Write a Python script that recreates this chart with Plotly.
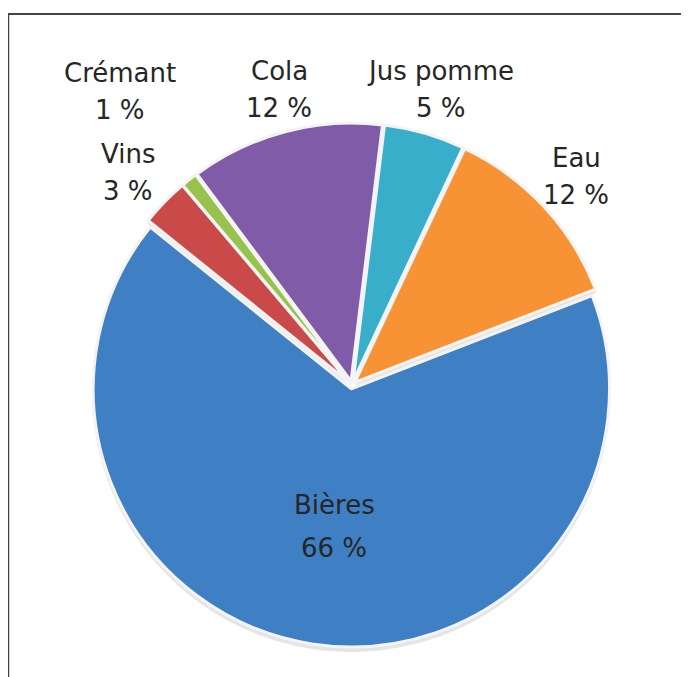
import plotly.graph_objects as go

labels = ["Jus pomme", "Eau", "Bières", "Vins", "Crémant", "Cola"]
values = [5, 12, 66, 3, 1, 12]
colors = ["#38AECB", "#F79235", "#3F7FC4", "#C94A49", "#97C24D", "#7F5BA8"]

# the page body adds an 8 px margin, so the figure is drawn 8 px in from the window edge
OFF = 8
W, H = 689 - OFF, 677 - OFF

# label placement (window-pixel centres of the name line and the value line)
label_pos = {
    "Jus pomme": (441, 71, 108),
    "Eau": (576, 158, 195),
    "Bières": (334, 505, 548),
    "Vins": (128, 154, 191),
    "Crémant": (120, 73, 110),
    "Cola": (279, 71, 108),
}


def px(x):
    return (x - OFF) / W


def py(y):
    return 1 - (y - OFF) / H


cx, cy, R = 352, 385, 262
dom_x = [px(cx - R), px(cx + R)]
dom_y = [py(cy + R), py(cy - R)]
pull = [0.015] * len(values)

fig = go.Figure()
# soft drop shadow
fig.add_trace(go.Pie(
    labels=labels, values=values, sort=False, direction="clockwise", rotation=7,
    pull=pull,
    marker=dict(colors=["rgba(0,0,0,0.10)"] * len(values), line=dict(width=0)),
    textinfo="none", hoverinfo="skip", showlegend=False,
    domain=dict(x=[dom_x[0] - 1 / W, dom_x[1] + 1 / W], y=[dom_y[0] - 6 / H, dom_y[1] - 2 / H]),
))
fig.add_trace(go.Pie(
    labels=labels,
    values=values,
    sort=False,
    direction="clockwise",
    rotation=7,
    pull=pull,
    marker=dict(colors=colors, line=dict(color="#f4f4f4", width=3)),
    textinfo="none",
    showlegend=False,
    hoverinfo="label+value",
    domain=dict(x=dom_x, y=dom_y),
))

font = dict(family="DejaVu Sans", size=26, color="#262626")
annotations = []
for lab, val in zip(labels, values):
    x, y1, y2 = label_pos[lab]
    annotations.append(dict(text=lab, x=px(x), y=py(y1), xref="paper", yref="paper",
                            showarrow=False, xanchor="center", yanchor="middle", font=font))
    annotations.append(dict(text=f"{val} %", x=px(x), y=py(y2), xref="paper", yref="paper",
                            showarrow=False, xanchor="center", yanchor="middle", font=font))

fig.update_layout(
    width=W, height=H,
    margin=dict(l=0, r=0, t=0, b=0),
    paper_bgcolor="white",
    plot_bgcolor="white",
    annotations=annotations,
    shapes=[
        dict(type="line", xref="paper", yref="paper", x0=px(8), x1=1, y0=py(14), y1=py(14),
             line=dict(color="#444444", width=2)),
        dict(type="line", xref="paper", yref="paper", x0=px(8.5), x1=px(8.5), y0=0, y1=py(14),
             line=dict(color="#444444", width=1.5)),
    ],
)

fig.write_html("out.html")
